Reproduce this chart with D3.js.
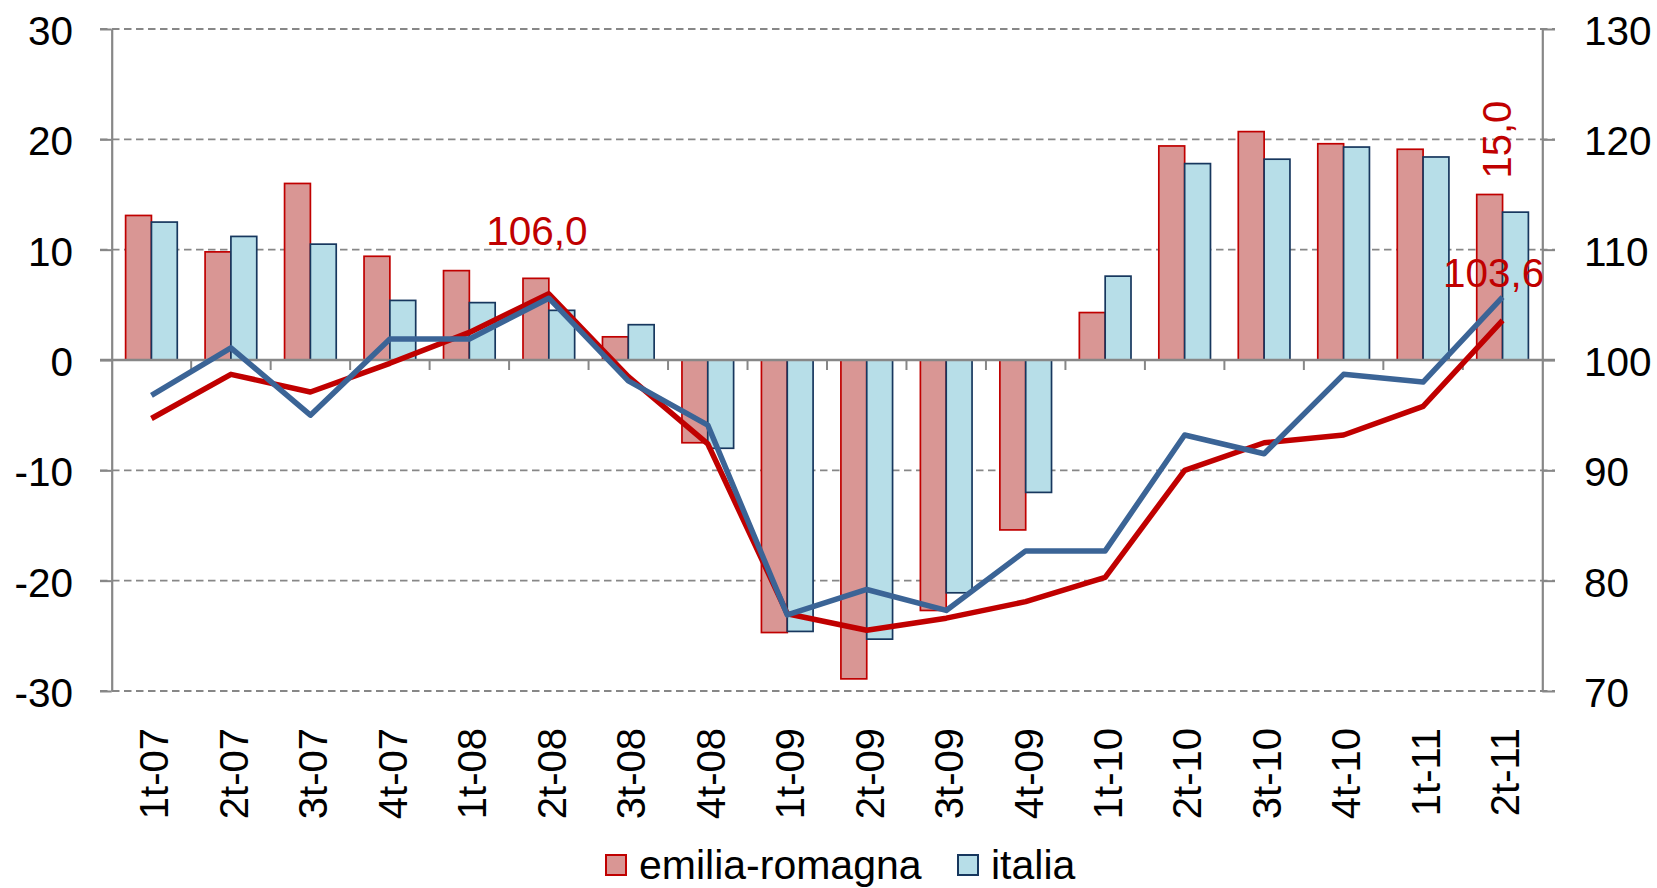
<!DOCTYPE html>
<html>
<head>
<meta charset="utf-8">
<script src="https://cdn.jsdelivr.net/npm/d3@7"></script>
<style>
  html, body { margin: 0; padding: 0; background: #fff; }
  svg { display: block; font-family: "Liberation Sans", Arial, sans-serif; }
</style>
</head>
<body>
<div id="chart"></div>
<script>
// quarterly categories + two bar series (left axis) and two index lines (right axis)
const categories = ['1t-07', '2t-07', '3t-07', '4t-07', '1t-08', '2t-08', '3t-08', '4t-08', '1t-09',
                    '2t-09', '3t-09', '4t-09', '1t-10', '2t-10', '3t-10', '4t-10', '1t-11', '2t-11'];
const emiliaBars  = [13.1, 9.8, 16.0, 9.4, 8.1, 7.4, 2.1, -7.5, -24.7, -28.9, -22.7, -15.4, 4.3, 19.4, 20.7, 19.6, 19.1, 15.0];
const italiaBars  = [12.5, 11.2, 10.5, 5.4, 5.2, 4.5, 3.2, -8.0, -24.6, -25.3, -21.1, -12.0, 7.6, 17.8, 18.2, 19.3, 18.4, 13.4];
const emiliaIndex = [94.7, 98.7, 97.1, 99.7, 102.5, 106.0, 98.5, 92.4, 77.0, 75.5, 76.6, 78.1, 80.3, 90.0, 92.5, 93.2, 95.8, 103.6];
const italiaIndex = [96.8, 101.1, 95.0, 101.9, 101.9, 105.6, 98.1, 94.1, 76.9, 79.2, 77.3, 82.7, 82.7, 93.2, 91.5, 98.7, 98.0, 105.7];
const leftTicks  = [-30, -20, -10, 0, 10, 20, 30];
const rightTicks = [70, 80, 90, 100, 110, 120, 130];
const seriesNames = ['emilia-romagna', 'italia'];

const W = 1657, H = 888;
const plot = { left: 111.7, right: 1542.3, top: 29, bottom: 691 };

const RED = '#C00000', RED_FILL = '#D99694';
const BLUE = '#3B6496', BLUE_FILL = '#B7DEE8', BLUE_EDGE = '#17375E';
const GRAY = '#878787';

const svg = d3.select('#chart').append('svg')
  .attr('width', W).attr('height', H)
  .attr('viewBox', [0, 0, W, H]);

/* ─── scales ─────────────────────────────────────────── */
const x = d3.scaleBand().domain(categories).range([plot.left, plot.right]).padding(0);
const groupW = x.step() * 0.65;
const x1 = d3.scaleBand().domain(seriesNames)
  .range([(x.step() - groupW) / 2, (x.step() + groupW) / 2]).padding(0);

const yL = d3.scaleLinear().domain([-30, 30]).range([plot.bottom, plot.top]);
const yR = d3.scaleLinear().domain([70, 130]).range([plot.bottom, plot.top]);

/* ─── dashed grid ────────────────────────────────────── */
svg.append('g').selectAll('line')
  .data(leftTicks.filter(d => d !== 0))
  .join('line')
    .attr('x1', plot.left - 11.7).attr('x2', plot.right + 12.7)
    .attr('y1', d => yL(d)).attr('y2', d => yL(d))
    .attr('stroke', GRAY).attr('stroke-width', 1.8)
    .attr('stroke-dasharray', '7.5,4.5');

/* ─── bars ───────────────────────────────────────────── */
const rows = categories.map((c, i) => ({ cat: c, vals: [emiliaBars[i], italiaBars[i]] }));
const barStyle = [
  { fill: RED_FILL, stroke: RED },
  { fill: BLUE_FILL, stroke: BLUE_EDGE }
];

svg.append('g').selectAll('g')
  .data(rows)
  .join('g')
    .attr('transform', d => `translate(${x(d.cat)},0)`)
  .selectAll('rect')
  .data(d => d.vals.map((v, k) => ({ key: seriesNames[k], k, v })))
  .join('rect')
    .attr('x', d => x1(d.key))
    .attr('width', x1.bandwidth())
    .attr('y', d => yL(Math.max(0, d.v)))
    .attr('height', d => Math.abs(yL(d.v) - yL(0)))
    .attr('fill', d => barStyle[d.k].fill)
    .attr('stroke', d => barStyle[d.k].stroke)
    .attr('stroke-width', 1.7);

/* ─── axes ───────────────────────────────────────────── */
const plainNum = d => String(d);   // hyphen minus, like the original

const axisLeftG = svg.append('g')
  .attr('transform', `translate(${plot.left},0)`)
  .call(d3.axisLeft(yL).tickValues(leftTicks).tickFormat(plainNum)
    .tickSize(11.7).tickPadding(27).tickSizeOuter(0));

const axisRightG = svg.append('g')
  .attr('transform', `translate(${plot.right},0)`)
  .call(d3.axisRight(yR).tickValues(rightTicks).tickFormat(plainNum)
    .tickSize(12.7).tickPadding(29).tickSizeOuter(0));

[axisLeftG, axisRightG].forEach(g => {
  g.select('.domain').attr('stroke', GRAY).attr('stroke-width', 2.2);
  g.selectAll('.tick line').attr('stroke', GRAY).attr('stroke-width', 2);
  g.selectAll('.tick text')
    .attr('fill', '#000')
    .style('font-size', '40.5px')
    .attr('dy', '0.38em');
});

// zero line (category axis) and ticks between categories
svg.append('line')
  .attr('x1', plot.left - 11.7).attr('x2', plot.right + 12.7)
  .attr('y1', yL(0)).attr('y2', yL(0))
  .attr('stroke', GRAY).attr('stroke-width', 2.4);

svg.append('g').selectAll('line')
  .data(categories.slice(1))
  .join('line')
    .attr('x1', d => x(d)).attr('x2', d => x(d))
    .attr('y1', yL(0)).attr('y2', yL(0) + 10)
    .attr('stroke', GRAY).attr('stroke-width', 2);

svg.append('g').selectAll('text')
  .data(categories)
  .join('text')
    .attr('transform', d => `translate(${x(d) + x.bandwidth() / 2},728) rotate(-90)`)
    .attr('text-anchor', 'end')
    .attr('dy', '0.42em')
    .style('font-size', '40px')
    .attr('fill', '#000')
    .text(d => d);

/* ─── index lines ────────────────────────────────────── */
const line = d3.line()
  .x((d, i) => x(categories[i]) + x.bandwidth() / 2)
  .y(d => yR(d));

svg.append('path')
  .datum(emiliaIndex)
  .attr('fill', 'none').attr('stroke', RED).attr('stroke-width', 5.5)
  .attr('stroke-linejoin', 'round')
  .attr('d', line);

svg.append('path')
  .datum(italiaIndex)
  .attr('fill', 'none').attr('stroke', BLUE).attr('stroke-width', 5.5)
  .attr('stroke-linejoin', 'round')
  .attr('d', line);

/* ─── value labels ───────────────────────────────────── */
const iPeak = categories.indexOf('2t-08');
const iLast = categories.length - 1;
const cx = i => x(categories[i]) + x.bandwidth() / 2;

svg.append('text')
  .attr('x', cx(iPeak) - 12).attr('y', yR(emiliaIndex[iPeak]) - 49)
  .attr('text-anchor', 'middle').attr('fill', RED)
  .style('font-size', '40.5px')
  .text('106,0');

svg.append('text')
  .attr('x', cx(iLast) - 9).attr('y', yR(emiliaIndex[iLast]) - 33)
  .attr('text-anchor', 'middle').attr('fill', RED)
  .style('font-size', '40.5px')
  .text('103,6');

const barMid = x(categories[iLast]) + x1(seriesNames[0]) + x1.bandwidth() / 2;
svg.append('text')
  .attr('transform', `translate(${barMid + 21},${yL(emiliaBars[iLast]) - 16}) rotate(-90)`)
  .attr('text-anchor', 'start').attr('fill', RED)
  .style('font-size', '40px')
  .text('15,0');

/* ─── legend ─────────────────────────────────────────── */
const legend = [
  { name: seriesNames[0], fill: RED_FILL, stroke: RED, x: 606 },
  { name: seriesNames[1], fill: BLUE_FILL, stroke: BLUE_EDGE, x: 958 }
];
const lg = svg.append('g').selectAll('g').data(legend).join('g')
  .attr('transform', d => `translate(${d.x},855)`);
lg.append('rect')
  .attr('width', 20).attr('height', 20)
  .attr('fill', d => d.fill).attr('stroke', d => d.stroke).attr('stroke-width', 2);
lg.append('text')
  .attr('x', 33).attr('y', 24)
  .style('font-size', '41px')
  .attr('fill', '#000')
  .text(d => d.name);
</script>
</body>
</html>
